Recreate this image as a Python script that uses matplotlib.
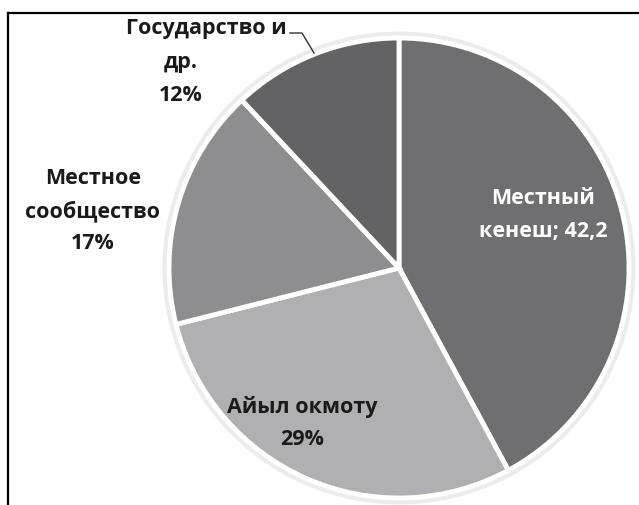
import matplotlib
matplotlib.use("Agg")
import matplotlib.pyplot as plt
from matplotlib.lines import Line2D
from matplotlib.patches import Circle

labels = ["Местный\nкенеш; 42,2", "Айыл окмоту\n29%", "Местное\nсообщество\n17%", "Государство и\nдр.\n12%"]
values = [42.2, 29, 17, 12]
colors = ["#6f6f72", "#b0b0b3", "#8e8e90", "#636365"]

plt.rcParams['font.family'] = ['Open Sans', 'DejaVu Sans']

fig = plt.figure(figsize=(6.39, 5.05), dpi=100)
fig.patch.set_facecolor("white")

# frame (top and left edges visible)
fig.add_artist(Line2D([8 / 639, 8 / 639], [0, 1 - 13 / 505], color="black", lw=1.6))
fig.add_artist(Line2D([8 / 639, 1], [1 - 13 / 505, 1 - 13 / 505], color="black", lw=1.6))

# pie axes: centre (399, 268) px, radius 230 px
cx, cy, r = 399, 268, 230
ax = fig.add_axes([(cx - r) / 639, (505 - cy - r) / 505, 2 * r / 639, 2 * r / 505])

def d(px, py):
    return (px - cx) / r, (cy - py) / r

ax.add_patch(Circle((0, 0), 1.025, color="#ececec", zorder=0, clip_on=False))
ax.pie(values, colors=colors, startangle=90, counterclock=False, radius=1,
       wedgeprops=dict(edgecolor="white", linewidth=3.5))
ax.set_xlim(-1, 1)
ax.set_ylim(-1, 1)
ax.set_aspect("equal")
ax.axis("off")

fs = 15.5
ls = 1.7
ax.text(*d(543, 215), labels[0], color="white", fontsize=fs, fontweight="bold",
        ha="center", va="center", linespacing=ls)
ax.text(*d(302, 423), labels[1], color="#1a1a1a", fontsize=fs, fontweight="bold",
        ha="center", va="center", linespacing=ls)
ax.text(*d(93, 211), labels[2], color="#1a1a1a", fontsize=fs, fontweight="bold",
        ha="center", va="center", linespacing=ls, clip_on=False)
top, rest = labels[3].split("\n", 1)
ax.text(*d(206, 28), top, color="#1a1a1a", fontsize=fs, fontweight="bold",
        ha="center", va="center", clip_on=False)
ax.text(*d(181, 79), rest, color="#1a1a1a", fontsize=fs, fontweight="bold",
        ha="center", va="center", linespacing=ls, clip_on=False)

lx, ly = zip(d(290, 33), d(302, 33), d(314, 53))
ax.plot(lx, ly, color="#333333", lw=1, clip_on=False)

fig.savefig("out.png", dpi=100, facecolor="white")
